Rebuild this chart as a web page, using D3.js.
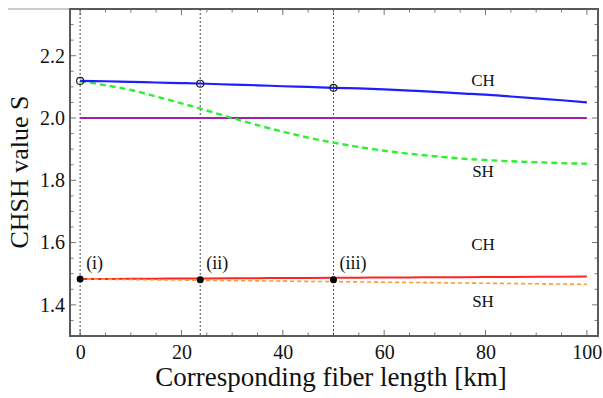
<!DOCTYPE html>
<html>
<head>
<meta charset="utf-8">
<script src="https://cdn.jsdelivr.net/npm/d3@7"></script>
<style>
  body { margin: 0; background: #fff; }
  text { font-family: "Liberation Serif", "Times New Roman", Times, serif; }
</style>
</head>
<body>
<div id="chart"></div>
<script>
// fiber length [km] sampled for the curves
var km = [0, 5, 10, 15, 20, 25, 30, 35, 40, 45, 50, 55, 60, 65, 70, 75, 80, 85, 90, 95, 100];
var chUpper = [2.119, 2.118, 2.116, 2.114, 2.112, 2.110, 2.107, 2.105, 2.102, 2.100, 2.097, 2.095, 2.092, 2.088, 2.084, 2.079, 2.075, 2.069, 2.063, 2.057, 2.050];
var shUpper = [2.119, 2.105, 2.090, 2.069, 2.047, 2.024, 2.000, 1.977, 1.956, 1.937, 1.921, 1.907, 1.895, 1.885, 1.877, 1.870, 1.865, 1.861, 1.858, 1.855, 1.853];
var chLower = [1.483, 1.4834, 1.4838, 1.4842, 1.4846, 1.485, 1.4854, 1.4858, 1.4862, 1.4866, 1.487, 1.4874, 1.4878, 1.4882, 1.4886, 1.489, 1.4894, 1.4898, 1.4902, 1.4906, 1.491];
var shLower = [1.483, 1.4821, 1.4813, 1.4804, 1.4796, 1.4787, 1.4779, 1.477, 1.4762, 1.4753, 1.4745, 1.4736, 1.4728, 1.4719, 1.4711, 1.4702, 1.4694, 1.4685, 1.4677, 1.4668, 1.466];
var bound = 2.0;

// marked operating points
var markKm = [0, 23.7, 50];
var markLabels = ['(i)', '(ii)', '(iii)'];
var openPts = [2.119, 2.110, 2.097];
var filledPts = [1.483, 1.481, 1.481];

var xTicks = [0, 20, 40, 60, 80, 100];
var yTicks = [1.4, 1.6, 1.8, 2.0, 2.2];

var W = 603, H = 398;
var pL = 70, pR = 598, pT = 9, pB = 336;
var serif = '"Liberation Serif", "Times New Roman", Times, serif';

var svg = d3.select('#chart').append('svg')
  .attr('width', W)
  .attr('height', H);

var x = d3.scaleLinear().domain([-2, 102.2]).range([pL, pR]);
var y = d3.scaleLinear().domain([1.3, 2.35]).range([pB, pT]);

// faint line left of frame top
svg.append('line')
  .attr('x1', 8).attr('x2', pL).attr('y1', pT).attr('y2', pT)
  .attr('stroke', '#bbb').attr('stroke-width', 1.5);

// minor/major ticks, drawn inward on all four sides
var xMinor = d3.range(0, 101, 5);
var yMinor = d3.range(1.3, 2.351, 0.05);

var tk = svg.append('g').attr('stroke', '#777').attr('stroke-width', 1);
xMinor.forEach(function(v) {
  var len = (v % 20 === 0) ? 6 : 3.5;
  tk.append('line').attr('x1', x(v)).attr('x2', x(v)).attr('y1', pB).attr('y2', pB - len);
  tk.append('line').attr('x1', x(v)).attr('x2', x(v)).attr('y1', pT).attr('y2', pT + len);
});
yMinor.forEach(function(v) {
  var major = yTicks.some(function(t) { return Math.abs(t - v) < 1e-6; });
  var len = major ? 6 : 3.5;
  tk.append('line').attr('x1', pL).attr('x2', pL + len).attr('y1', y(v)).attr('y2', y(v));
  tk.append('line').attr('x1', pR).attr('x2', pR - len).attr('y1', y(v)).attr('y2', y(v));
});

// axes tick labels
var xAxis = d3.axisBottom(x).tickValues(xTicks).tickSize(0).tickPadding(9).tickFormat(d3.format('d'));
var gx = svg.append('g').attr('transform', 'translate(0,' + pB + ')').call(xAxis);
gx.select('.domain').remove();
gx.selectAll('text')
  .attr('font-family', serif)
  .attr('font-size', 20).attr('fill', '#111');

var yAxis = d3.axisLeft(y).tickValues(yTicks).tickSize(0).tickPadding(5).tickFormat(d3.format('.1f'));
var gy = svg.append('g').attr('transform', 'translate(' + pL + ',0)').call(yAxis);
gy.select('.domain').remove();
gy.selectAll('text')
  .attr('font-family', serif)
  .attr('font-size', 20).attr('fill', '#111');

// vertical dashed guides
markKm.forEach(function(v) {
  svg.append('line')
    .attr('x1', x(v)).attr('x2', x(v)).attr('y1', pT).attr('y2', pB)
    .attr('stroke', '#222').attr('stroke-width', 0.8)
    .attr('stroke-dasharray', '2,2');
});

var line = function(vals) {
  return d3.line()
    .x(function(d, i) { return x(km[i]); })
    .y(function(d) { return y(d); })
    .curve(d3.curveMonotoneX)(vals);
};

// classical bound
svg.append('line')
  .attr('x1', x(0)).attr('x2', x(100)).attr('y1', y(bound)).attr('y2', y(bound))
  .attr('stroke', '#a020a8').attr('stroke-width', 2.2);

svg.append('path').attr('d', line(shUpper))
  .attr('fill', 'none').attr('stroke', '#2ef02e').attr('stroke-width', 2.4)
  .attr('stroke-dasharray', '6,4');
svg.append('path').attr('d', line(chUpper))
  .attr('fill', 'none').attr('stroke', '#1e1eff').attr('stroke-width', 2.2);

svg.append('path').attr('d', line(chLower))
  .attr('fill', 'none').attr('stroke', '#ff2424').attr('stroke-width', 2);
svg.append('path').attr('d', line(shLower))
  .attr('fill', 'none').attr('stroke', '#ff9a2e').attr('stroke-width', 1.6)
  .attr('stroke-dasharray', '4,3');

// frame
svg.append('rect')
  .attr('x', pL).attr('y', pT).attr('width', pR - pL).attr('height', pB - pT)
  .attr('fill', 'none').attr('stroke', '#5a5a5a').attr('stroke-width', 2);

// markers
svg.selectAll('.open').data(markKm).enter().append('circle')
  .attr('cx', function(d) { return x(d); })
  .attr('cy', function(d, i) { return y(openPts[i]); })
  .attr('r', 3.5)
  .attr('fill', 'none').attr('stroke', '#222').attr('stroke-width', 1.2);

svg.selectAll('.filled').data(markKm).enter().append('circle')
  .attr('cx', function(d) { return x(d); })
  .attr('cy', function(d, i) { return y(filledPts[i]); })
  .attr('r', 3.5)
  .attr('fill', '#000');

svg.selectAll('.mlab').data(markKm).enter().append('text')
  .attr('x', function(d) { return x(d) + 6; })
  .attr('y', 269)
  .attr('font-size', 18).attr('fill', '#111')
  .text(function(d, i) { return markLabels[i]; });

// curve labels
var curveLabels = [
  { t: 'CH', yy: 86 }, { t: 'SH', yy: 177 },
  { t: 'CH', yy: 250 }, { t: 'SH', yy: 307 }
];
svg.selectAll('.clab').data(curveLabels).enter().append('text')
  .attr('x', 483).attr('y', function(d) { return d.yy; })
  .attr('text-anchor', 'middle')
  .attr('font-size', 17).attr('fill', '#111')
  .text(function(d) { return d.t; });

// axis titles
svg.append('text')
  .attr('x', 331).attr('y', 386)
  .attr('text-anchor', 'middle')
  .attr('font-size', 27).attr('fill', '#111')
  .text('Corresponding fiber length [km]');

svg.append('text')
  .attr('transform', 'translate(28,172) rotate(-90)')
  .attr('text-anchor', 'middle')
  .attr('font-size', 26).attr('fill', '#111')
  .text('CHSH value S');
</script>
</body>
</html>
